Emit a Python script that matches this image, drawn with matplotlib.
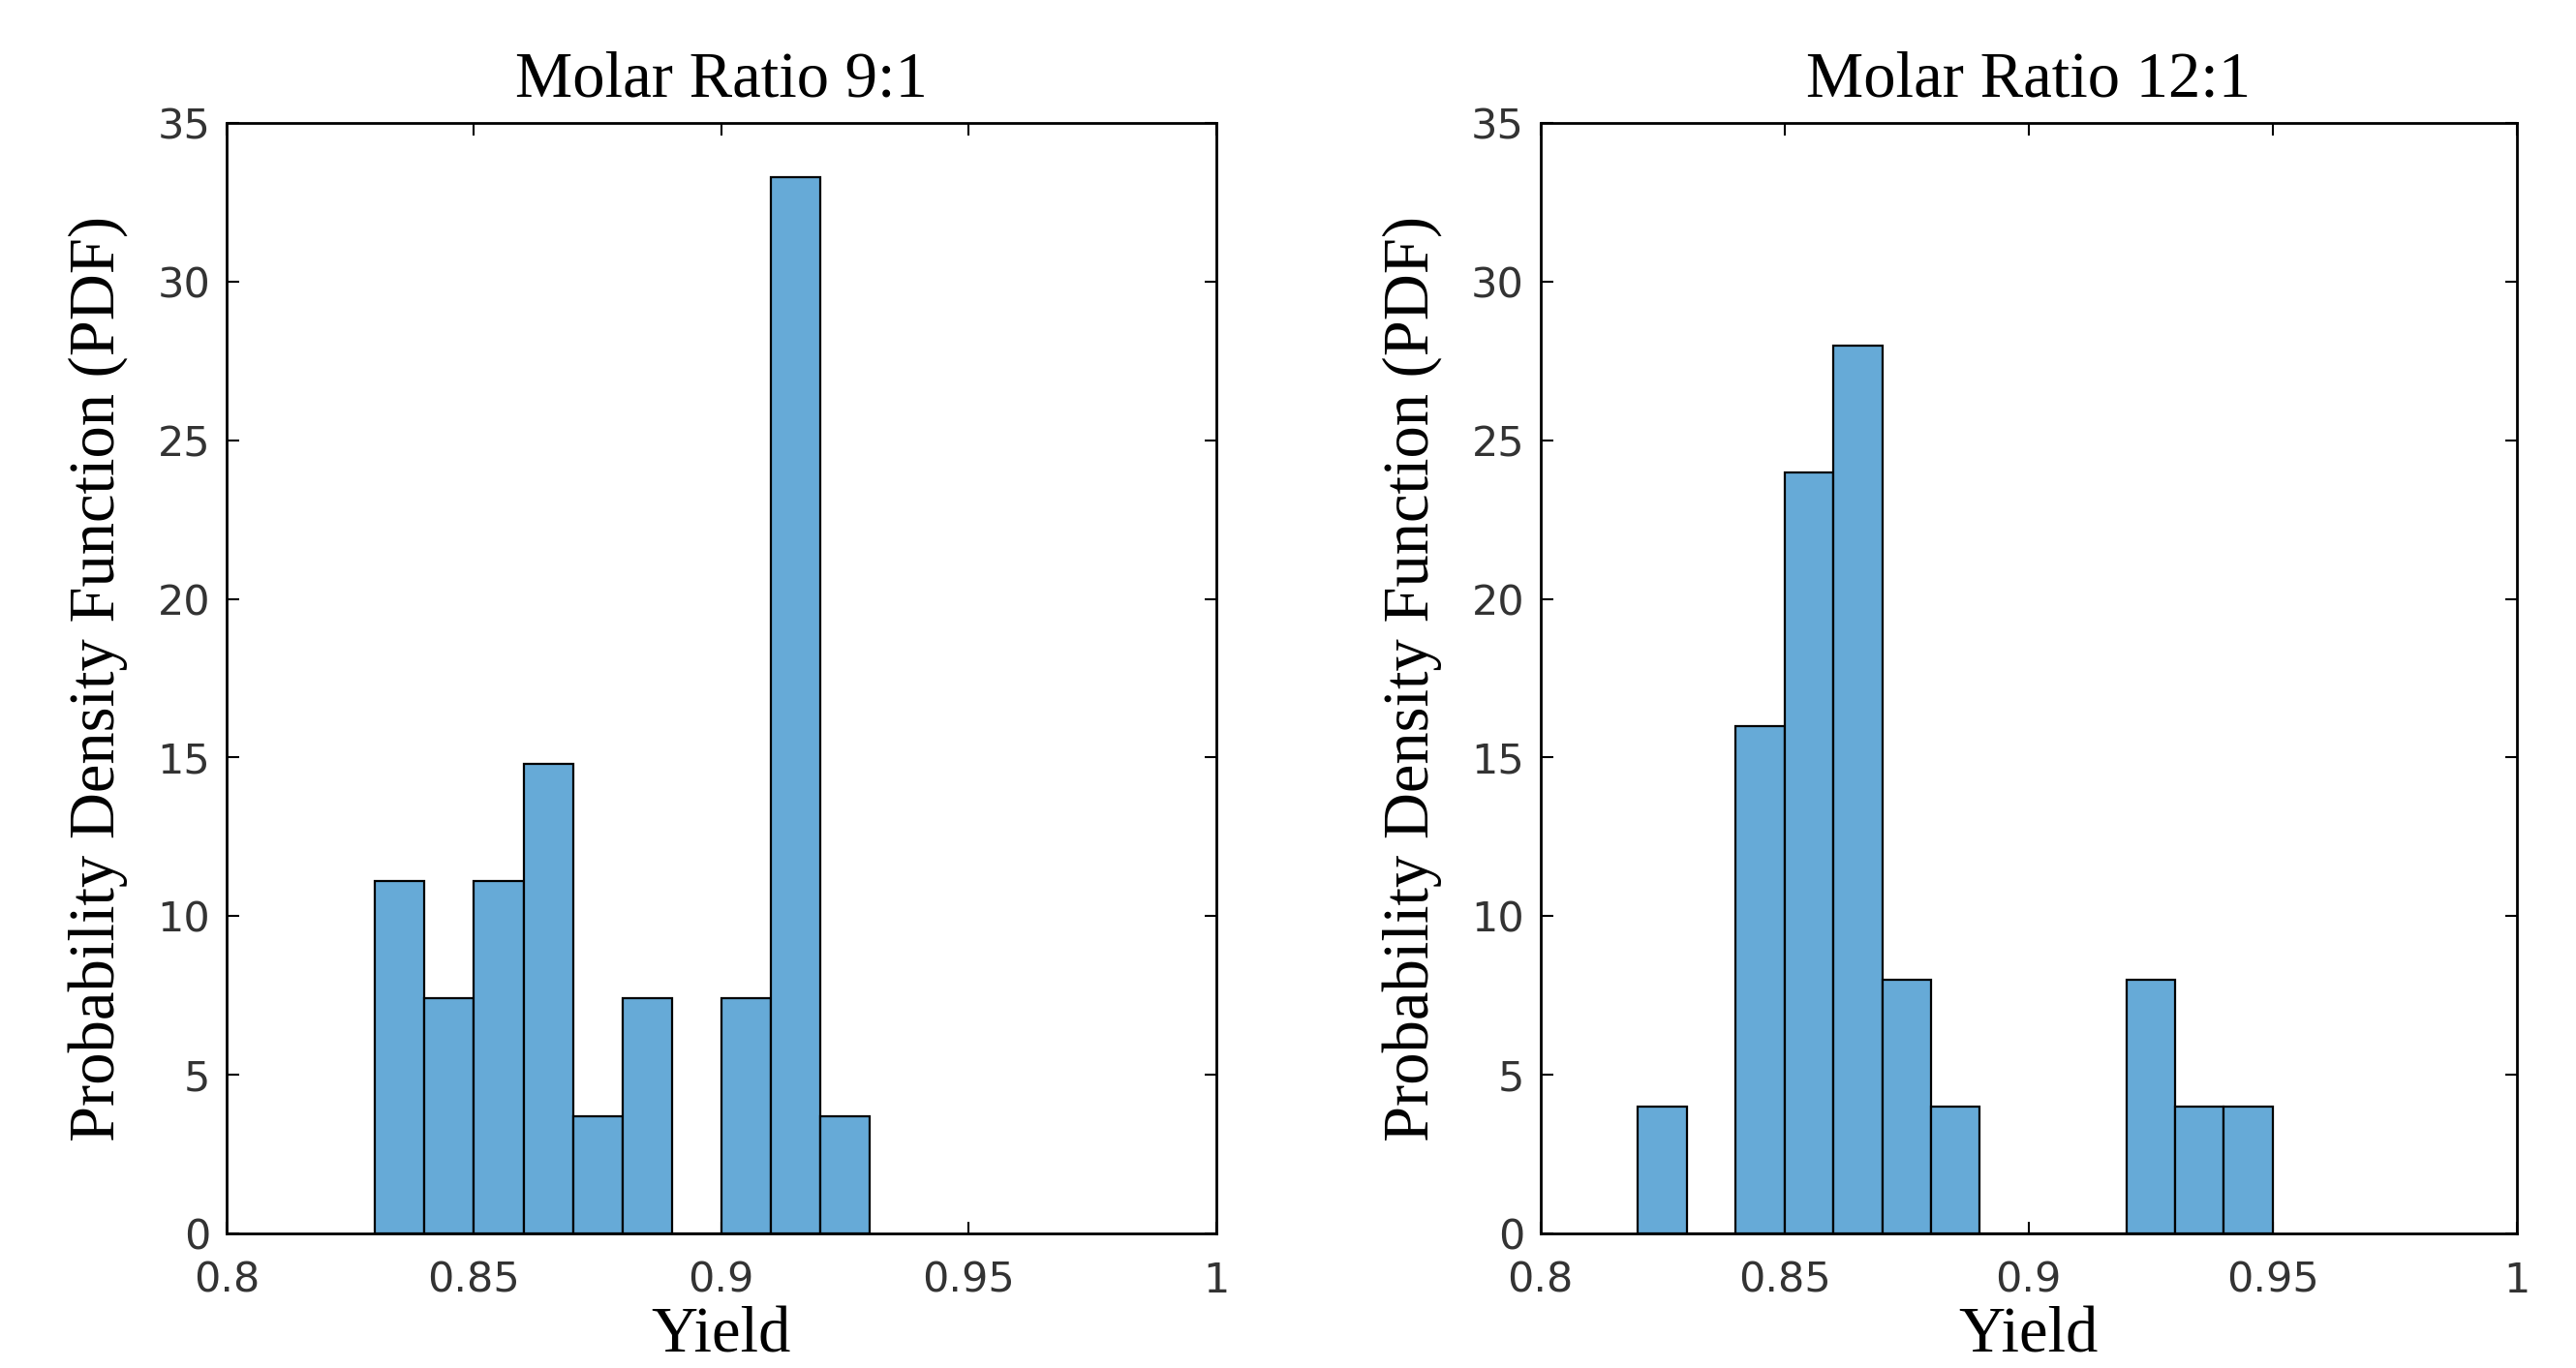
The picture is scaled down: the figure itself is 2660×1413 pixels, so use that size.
import matplotlib
matplotlib.use("Agg")
import matplotlib.pyplot as plt
import numpy as np

# Data (PDF-normalised histograms, bin width 0.01)
titles = ["Molar Ratio 9:1", "Molar Ratio 12:1"]
edges_9 = [0.83, 0.84, 0.85, 0.86, 0.87, 0.88, 0.89, 0.90, 0.91, 0.92, 0.93]
pdf_9 = [11.1, 7.4, 11.1, 14.8, 3.7, 7.4, 0.0, 7.4, 33.3, 3.7]
edges_12 = [0.82, 0.83, 0.84, 0.85, 0.86, 0.87, 0.88, 0.89, 0.90, 0.91, 0.92, 0.93, 0.94, 0.95]
pdf_12 = [4.0, 0.0, 16.0, 24.0, 28.0, 8.0, 4.0, 0.0, 0.0, 0.0, 8.0, 4.0, 4.0]
x_ticks = [0.8, 0.85, 0.9, 0.95, 1.0]
x_tick_labels = ["0.8", "0.85", "0.9", "0.95", "1"]
y_ticks = [0, 5, 10, 15, 20, 25, 30, 35]
x_label = "Yield"
y_label = "Probability Density Function (PDF)"

bar_color = "#66AAD7"
serif = ["Liberation Serif", "DejaVu Serif"]
tick_font = "DejaVu Sans"

fig = plt.figure(figsize=(26.6, 14.13), dpi=100)
axes_pos = [[0.088, 0.0984, 0.384, 0.8116], [0.598, 0.0984, 0.379, 0.8116]]

for pos, title, edges, vals in zip(axes_pos, titles, [edges_9, edges_12], [pdf_9, pdf_12]):
    ax = fig.add_axes(pos)
    e = np.array(edges)
    ax.bar(e[:-1], vals, width=np.diff(e), align="edge", color=bar_color,
           edgecolor="black", linewidth=1.6, zorder=2)
    ax.set_xlim(0.8, 1.0)
    ax.set_ylim(0, 35)
    ax.set_xticks(x_ticks)
    ax.set_xticklabels(x_tick_labels)
    ax.set_yticks(y_ticks)
    ax.tick_params(direction="in", length=9, width=1.5, top=True, right=True,
                   labelsize=31, colors="black", labelcolor="#333333")
    ax.tick_params(axis="x", pad=20)
    ax.tick_params(axis="y", pad=12)
    for lab in ax.get_xticklabels() + ax.get_yticklabels():
        lab.set_fontfamily(tick_font)
    for sp in ax.spines.values():
        sp.set_linewidth(2.0)
        sp.set_zorder(3)
    ax.set_title(title, fontsize=48, family=serif, pad=20)
    ax.set_xlabel(x_label, fontsize=48, family=serif, labelpad=4)
    ax.set_ylabel(y_label, fontsize=48, family=serif, labelpad=22)

fig.savefig("out.png", dpi=100, facecolor="white")
